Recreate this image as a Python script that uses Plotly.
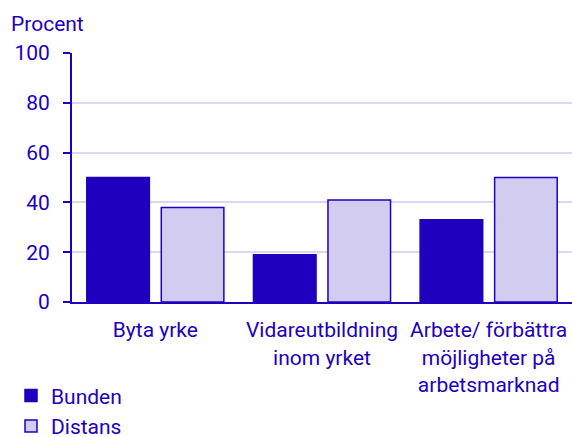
import plotly.graph_objects as go

categories = ["Byta yrke", "Vidareutbildning<br>inom yrket", "Arbete/ förbättra<br>möjligheter på<br>arbetsmarknad"]
bunden = [50, 19, 33]
distans = [38, 41, 50]

DARK = "#1E00BE"
LIGHT = "#D2CDF0"
GRID = "#DAD7F3"

fig = go.Figure()
fig.add_trace(go.Bar(
    x=categories, y=bunden, name="Bunden",
    marker=dict(color=DARK, line=dict(color=DARK, width=1.5)),
))
fig.add_trace(go.Bar(
    x=categories, y=distans, name="Distans",
    marker=dict(color=LIGHT, line=dict(color=DARK, width=1.5)),
))

# figure is a bit taller than the window so the legend never pushes the margins;
# body margin/scrollbars are removed in the page
fig.update_layout(
    width=572, height=460,
    margin=dict(l=72, r=0, t=53, b=158),
    paper_bgcolor="white", plot_bgcolor="white",
    font=dict(family="Roboto", size=21, color=DARK),
    barmode="group", bargap=0.106, bargroupgap=0.16,
    showlegend=True,
    legend=dict(
        orientation="v", x=-0.122, xanchor="left", y=-0.295, yanchor="top",
        font=dict(size=21), itemwidth=30, tracegroupgap=0,
    ),
    annotations=[dict(
        text="Procent", xref="paper", yref="paper", x=-0.126, y=1.062,
        xanchor="left", yanchor="bottom", showarrow=False,
        font=dict(size=21, color=DARK),
    )],
)
fig.update_yaxes(
    range=[0, 100], dtick=20, showgrid=True, gridcolor=GRID, gridwidth=2,
    showline=True, linecolor=DARK, linewidth=2,
    ticks="outside", ticklen=7, tickcolor=DARK, tickwidth=2,
    ticklabelstandoff=9, zeroline=False, automargin=False,
)
fig.update_xaxes(
    showline=True, linecolor=DARK, linewidth=2, ticks="", tickangle=0,
    showgrid=False, automargin=False, ticklabelstandoff=8,
    tickfont=dict(size=21),
)

fig.write_html(
    "out.html",
    config={"displayModeBar": False},
    post_script="document.body.style.margin='0';document.body.style.overflow='hidden';",
)
